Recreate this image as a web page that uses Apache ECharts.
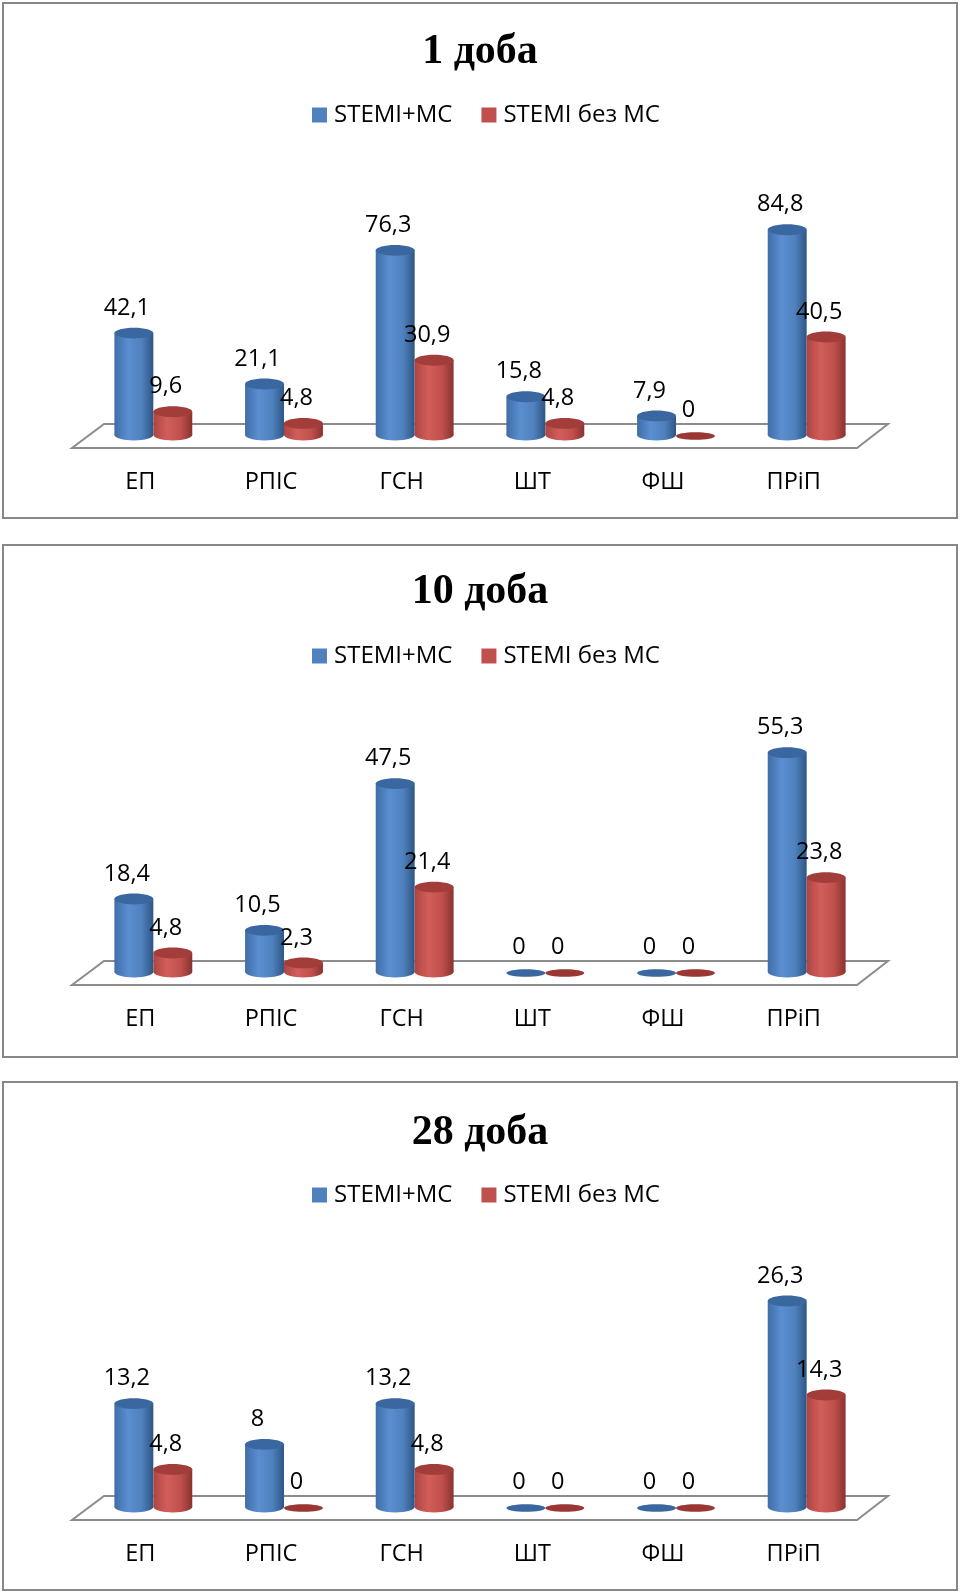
<!DOCTYPE html>
<html>
<head>
<meta charset="utf-8">
<script src="https://cdn.jsdelivr.net/npm/echarts@6/dist/echarts.min.js"></script>
<style>
  html, body { margin: 0; padding: 0; background: #ffffff; }
  #chart { width: 960px; height: 1592px; }
</style>
</head>
<body>
<div id="chart"></div>
<script>
// Categories and series
const categories = ['ЕП', 'РПІС', 'ГСН', 'ШТ', 'ФШ', 'ПРіП'];
const seriesNames = ['STEMI+МС', 'STEMI без МС'];
const panelTitles = ['1 доба', '10 доба', '28 доба'];

// Values, % of patients
const day1WithMS = [42.1, 21.1, 76.3, 15.8, 7.9, 84.8];
const day1WithoutMS = [9.6, 4.8, 30.9, 4.8, 0, 40.5];
const day10WithMS = [18.4, 10.5, 47.5, 0, 0, 55.3];
const day10WithoutMS = [4.8, 2.3, 21.4, 0, 0, 23.8];
const day28WithMS = [13.2, 8, 13.2, 0, 0, 26.3];
const day28WithoutMS = [4.8, 0, 4.8, 0, 0, 14.3];

// Value axis maximum of each panel
const axisMax = [100, 60, 30];

const panelData = [
  [day1WithMS, day1WithoutMS],
  [day10WithMS, day10WithoutMS],
  [day28WithMS, day28WithoutMS]
];

// ---- layout ----
const PANELS = [
  { box: [3, 3, 954, 515],    titleY: 52,   legendY: 115,  top: 193,  zero: 435 },
  { box: [3, 545, 954, 512],  titleY: 592,  legendY: 656,  top: 734,  zero: 972 },
  { box: [3, 1082, 954, 508], titleY: 1133, legendY: 1195, top: 1272, zero: 1507 }
];
const GRID_LEFT = 88;
const GRID_WIDTH = 784;
const BAR_RATIO = 0.298;   // bar width as part of a category band
const FONT = '"Open Sans", "Noto Sans", sans-serif';

const PALETTE = [
  { // blue
    legend: '#4f81bd',
    body: ['#3f6ea8', '#5a8ed0', '#4f81bd', '#2e5686'],
    top: '#3b67a0',
    flat: '#3b67a0'
  },
  { // red
    legend: '#c0504d',
    body: ['#ad4542', '#d25e5b', '#c0504d', '#8a3230'],
    top: '#a23d3a',
    flat: '#9a3633'
  }
];

function fmt(v) {
  return String(v).replace('.', ',');
}

function bodyGradient(stops) {
  return new echarts.graphic.LinearGradient(0, 0, 1, 0, [
    { offset: 0, color: stops[0] },
    { offset: 0.35, color: stops[1] },
    { offset: 0.7, color: stops[2] },
    { offset: 1, color: stops[3] }
  ]);
}

// A cylinder column series drawn through the category/value scales
function cylinderSeries(gridIndex, seriesIndex) {
  const pal = PALETTE[seriesIndex];
  const side = seriesIndex === 0 ? -1 : 1;
  const values = panelData[gridIndex][seriesIndex];
  return {
    type: 'custom',
    name: seriesNames[seriesIndex],
    xAxisIndex: gridIndex,
    yAxisIndex: gridIndex,
    clip: false,
    z: 3,
    itemStyle: { color: pal.legend },
    encode: { x: 0, y: 1 },
    data: values.map((v, i) => [i, v]),
    renderItem(params, api) {
      const i = api.value(0);
      const v = api.value(1);
      const base = api.coord([i, 0]);
      const top = api.coord([i, v]);
      const band = api.size([1, 0])[0];
      const w = band * BAR_RATIO;
      const rx = w / 2;
      const ry = w * 0.14;
      const cx = base[0] + side * rx;
      const children = [];
      if (v > 0) {
        const fill = bodyGradient(pal.body);
        children.push({
          type: 'ellipse',
          shape: { cx: cx, cy: base[1], rx: rx, ry: ry },
          style: { fill: fill }
        });
        children.push({
          type: 'rect',
          shape: { x: cx - rx, y: top[1], width: w, height: base[1] - top[1] },
          style: { fill: fill }
        });
        children.push({
          type: 'ellipse',
          shape: { cx: cx, cy: top[1], rx: rx, ry: ry },
          style: { fill: pal.top }
        });
      } else {
        children.push({
          type: 'ellipse',
          shape: { cx: cx, cy: base[1] + 1, rx: rx, ry: ry * 0.7 },
          style: { fill: pal.flat }
        });
      }
      children.push({
        type: 'text',
        style: {
          x: cx - 7,
          y: top[1] - 25,
          text: fmt(v),
          fill: '#000000',
          font: '23.5px ' + FONT,
          align: 'center',
          verticalAlign: 'middle'
        }
      });
      return { type: 'group', children: children };
    }
  };
}

const grids = [], xAxes = [], yAxes = [], titles = [], legends = [], series = [], graphics = [];

PANELS.forEach((p, g) => {
  const height = p.zero - p.top;
  grids.push({ left: GRID_LEFT, width: GRID_WIDTH, top: p.top, height: height });
  xAxes.push({
    type: 'category',
    gridIndex: g,
    data: categories,
    boundaryGap: true,
    axisLine: { show: false },
    axisTick: { show: false },
    axisLabel: {
      margin: 35,
      fontSize: 23.5,
      lineHeight: 24,
      color: '#000000',
      fontFamily: FONT,
      padding: [0, 26, 0, 0]
    }
  });
  yAxes.push({
    type: 'value',
    gridIndex: g,
    min: 0,
    max: axisMax[g],
    show: false,
    splitLine: { show: false }
  });
  titles.push({
    text: panelTitles[g],
    left: 'center',
    top: p.titleY - 25,
    padding: 0,
    textStyle: {
      fontFamily: '"Liberation Serif", "Times New Roman", serif',
      fontWeight: 'bold',
      fontSize: 42,
      lineHeight: 50,
      color: '#000000'
    }
  });
  legends.push({
    data: seriesNames,
    left: 312,
    top: p.legendY - 12,
    padding: 0,
    icon: 'rect',
    itemWidth: 15,
    itemHeight: 15,
    itemGap: 29,
    textStyle: { fontSize: 24, lineHeight: 24, fontFamily: FONT, color: '#000000', padding: [0, 0, 0, 2] }
  });
  series.push(cylinderSeries(g, 0), cylinderSeries(g, 1));

  // panel frame
  graphics.push({
    type: 'rect',
    z: 0,
    shape: { x: p.box[0], y: p.box[1], width: p.box[2], height: p.box[3] },
    style: { fill: '#ffffff', stroke: '#878787', lineWidth: 2 }
  });
  // floor of the plot
  const gl = GRID_LEFT, gr = GRID_LEFT + GRID_WIDTH;
  graphics.push({
    type: 'polygon',
    z: 1,
    shape: {
      points: [
        [gl + 16, p.zero - 11],
        [gr + 16, p.zero - 11],
        [gr - 15, p.zero + 13],
        [gl - 16, p.zero + 13]
      ]
    },
    style: { fill: '#ffffff', stroke: '#8c8c8c', lineWidth: 2 }
  });
});

const chart = echarts.init(document.getElementById('chart'), null, { renderer: 'canvas' });
chart.setOption({
  backgroundColor: '#ffffff',
  animation: false,
  title: titles,
  legend: legends,
  grid: grids,
  xAxis: xAxes,
  yAxis: yAxes,
  graphic: graphics,
  series: series
});
</script>
</body>
</html>
